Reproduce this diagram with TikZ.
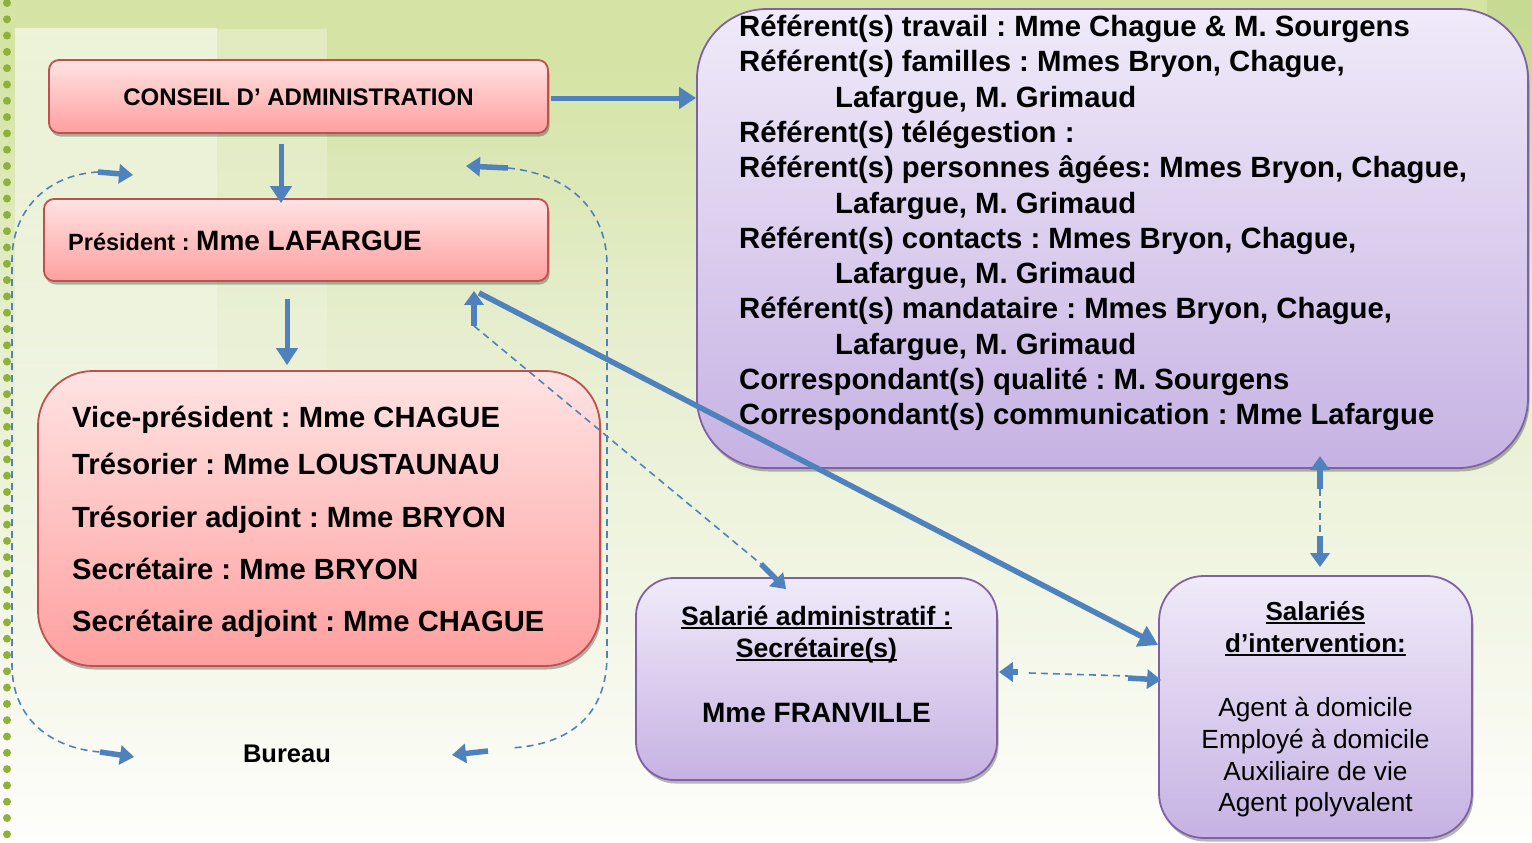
\documentclass[tikz,border=0pt]{standalone}
\usepackage{fontspec}
\setmainfont{Liberation Sans}
\usetikzlibrary{arrows.meta,shadows,fadings}
\definecolor{bgA}{HTML}{D5E3A5}
\definecolor{bgB}{HTML}{E6EECE}
\definecolor{bgC}{HTML}{F4F7E9}
\definecolor{bgD}{HTML}{FEFEFC}
\definecolor{strip}{HTML}{C6DA92}
\definecolor{dotgreen}{HTML}{8FB03A}
\definecolor{pinktop}{HTML}{FFE3E3}
\definecolor{pinkbot}{HTML}{FF9F9F}
\definecolor{pinkborder}{HTML}{C0504D}
\definecolor{lilactop}{HTML}{F0EAF9}
\definecolor{lilacbot}{HTML}{C6B2E3}
\definecolor{lilacborder}{HTML}{7F62A6}
\definecolor{arrowblue}{HTML}{4F81BD}
\newcommand\myul[1]{\setbox0\hbox{#1}\rlap{\rule[-4pt]{\wd0}{1.8pt}}\box0}
\frenchspacing
\begin{document}
\begin{tikzpicture}[x=1pt,y=-1pt,
  pinkbox/.style={draw=pinkborder, line width=1.8pt, top color=pinktop, bottom color=pinkbot,
    rounded corners=#1, inner sep=0pt,
    drop shadow={shadow xshift=1.5pt, shadow yshift=-3.5pt, opacity=.28, fill=black}},
  lilacbox/.style={draw=lilacborder, line width=1.8pt, top color=lilactop, bottom color=lilacbot,
    rounded corners=#1, inner sep=0pt,
    drop shadow={shadow xshift=1.5pt, shadow yshift=-3.5pt, opacity=.28, fill=black}},
  txt/.style={inner sep=0pt, text=black},
  conn/.style={draw=arrowblue, line width=5pt, -{Triangle[length=17pt,width=21pt]}},
  shortarr/.style={draw=arrowblue, line width=5.5pt, -{Triangle[length=14pt,width=19pt]}},
  dconn/.style={draw=arrowblue, line width=1.6pt, dash pattern=on 7pt off 5pt},
]
\useasboundingbox (0,0) rectangle (1532,843);
% background
\fill[bgA] (0,0) rectangle (1532,60);
\shade[top color=bgA, bottom color=bgB] (0,59.5) rectangle (1532,330);
\shade[top color=bgB, bottom color=bgC] (0,329.5) rectangle (1532,650);
\shade[top color=bgC, bottom color=bgD] (0,649.5) rectangle (1532,843);
\fill[white, opacity=.6, path fading=south] (15,28) rectangle (217,720);
\fill[white, opacity=.3, path fading=south] (217,28) rectangle (327,680);
\fill[strip, path fading=south] (1487,0) rectangle (1532,260);
\draw[dotgreen, line width=8pt, line cap=round, dash pattern=on 0pt off 16.3pt] (7,3) -- (7,843);

% boxes
\node[pinkbox=10pt, minimum width=499pt, minimum height=73pt] (cons) at (298.5,96.5) {};
\node[pinkbox=10pt, minimum width=504pt, minimum height=82pt] (pres) at (296,240) {};
\node[pinkbox=55pt, minimum width=562pt, minimum height=295pt] (bur) at (319,518.5) {};
\node[lilacbox=70pt, minimum width=831pt, minimum height=459pt] (ref) at (1112.5,238.5) {};
\node[lilacbox=38pt, minimum width=361pt, minimum height=202pt] (adm) at (816.5,679) {};
\node[lilacbox=45pt, minimum width=313pt, minimum height=262pt] (sal) at (1315.5,707) {};

% texts
\node[txt, anchor=base, font=\fontsize{24}{28}\selectfont\bfseries] (tcons) at (298.5,106) {CONSEIL D’ ADMINISTRATION};
\node[txt, anchor=base west] (tpres) at (68,250) {\fontsize{23.5}{26}\selectfont\bfseries Président : \fontsize{28}{32}\selectfont Mme LAFARGUE};

\foreach \i/\yy/\t in {0/427/{Vice-président : Mme CHAGUE},1/474/{Trésorier : Mme LOUSTAUNAU},2/527/{Trésorier adjoint : Mme BRYON},3/579/{Secrétaire : Mme BRYON},4/631.5/{Secrétaire adjoint : Mme CHAGUE}}
  \node[txt, anchor=base west, font=\fontsize{29.2}{33}\selectfont\bfseries] (tbur\i) at (72,\yy) {\t};

\foreach \i/\xx/\t in {0/739/{Référent(s) travail : Mme Chague \& M. Sourgens},
  1/739/{Référent(s) familles : Mmes Bryon, Chague,},
  2/835/{Lafargue, M. Grimaud},
  3/739/{Référent(s) télégestion :},
  4/739/{Référent(s) personnes âgées: Mmes Bryon, Chague,},
  5/835/{Lafargue, M. Grimaud},
  6/739/{Référent(s) contacts : Mmes Bryon, Chague,},
  7/835/{Lafargue, M. Grimaud},
  8/739/{Référent(s) mandataire : Mmes Bryon, Chague,},
  9/835/{Lafargue, M. Grimaud},
  10/739/{Correspondant(s) qualité : M. Sourgens},
  11/739/{Correspondant(s) communication : Mme Lafargue}}
  \node[txt, anchor=base west, font=\fontsize{29.3}{35}\selectfont\bfseries] (tref\i) at (\xx,36.5+\i*35.3) {\t};

\node[txt, anchor=base, font=\fontsize{26.6}{30}\selectfont\bfseries] (tadm1) at (816.5,625) {\myul{Salarié administratif :}};
\node[txt, anchor=base, font=\fontsize{26.6}{30}\selectfont\bfseries] (tadm2) at (816.5,657) {\myul{Secrétaire(s)}};
\node[txt, anchor=base, font=\fontsize{28}{32}\selectfont\bfseries] (tadm3) at (816.5,722) {Mme FRANVILLE};

\node[txt, anchor=base, font=\fontsize{26}{30}\selectfont\bfseries] (tsal1) at (1315.5,620) {\myul{Salariés}};
\node[txt, anchor=base, font=\fontsize{26}{30}\selectfont\bfseries] (tsal2) at (1315.5,652) {\myul{d’intervention:}};
\foreach \i/\yy/\t in {3/716.7/{Agent à domicile},4/748.3/{Employé à domicile},5/780/{Auxiliaire de vie},6/811.7/{Agent polyvalent}}
  \node[txt, anchor=base, font=\fontsize{26.3}{30}\selectfont] (tsal\i) at (1315.5,\yy) {\t};

\node[txt, anchor=base, font=\fontsize{25.5}{30}\selectfont\bfseries] (blabel) at (287,762) {Bureau};

% connectors
\coordinate (c1) at ([yshift=-1.5pt]cons.east);
\draw[conn, shorten <=2pt] (c1) -- (c1 -| ref.west);
\coordinate (c2) at ([xshift=-17.5pt]cons.south);
\draw[conn, shorten <=10pt, shorten >=-5pt] (c2) -- (c2 |- pres.north);
\coordinate (c3) at ([xshift=-9pt]pres.south);
\draw[conn, shorten <=17pt, shorten >=5pt] (c3) -- (c3 |- bur.north);
\draw[draw=arrowblue, line width=5.5pt, -{Triangle[length=19pt,width=22pt]}]
  ([xshift=183pt,yshift=-11pt]pres.south) -- ([yshift=62pt]sal.west);

\coordinate (d1) at ([xshift=178pt,yshift=-44pt]pres.south);
\coordinate (d2) at ([xshift=-55.5pt,yshift=13pt]adm.north);
\draw[shortarr] (d1) -- ([xshift=178pt,yshift=-9pt]pres.south);
\draw[dconn] (d1) -- (d2);
\draw[shortarr] (d2) -- ([xshift=-30.5pt,yshift=-12pt]adm.north);

\coordinate (e1) at ([yshift=7pt]adm.east);
\coordinate (e2) at ([yshift=27pt]sal.west);
\draw[shortarr] ([xshift=20pt]e1) -- ([xshift=1pt]e1);
\draw[dconn] ([xshift=31pt,yshift=-1pt]e1) -- ([xshift=-30pt,yshift=4pt]e2);
\draw[shortarr] ([xshift=-30pt,yshift=2pt]e2) -- ([xshift=3pt]e2);

\coordinate (f1) at ([xshift=4.5pt]sal.north);
\draw[shortarr] ([yshift=86pt]f1) -- ([yshift=119pt]f1);
\draw[dconn] ([yshift=86pt]f1) -- ([yshift=39pt]f1);
\draw[shortarr] ([yshift=39pt]f1) -- ([yshift=8pt]f1);

% bureau loops
\coordinate (lt) at (98,172);
\coordinate (lb) at (100,752);
\coordinate (rt) at (508,168);
\coordinate (rb) at (488,751);
\draw[dconn] (lt) .. controls (45,175) and (12,212) .. (12,260) -- (12,665)
  .. controls (12,718) and (50,748) .. (lb);
\draw[shortarr] (lt) -- (133,175);
\draw[shortarr] (lb) -- (134,757);
\draw[dconn] (rt) .. controls (575,175) and (607,215) .. (607,265) -- (607,655)
  .. controls (607,715) and (570,745) .. (510,748);
\draw[shortarr] (rt) -- (466,166);
\draw[shortarr] (rb) -- (452,755);
\end{tikzpicture}
\end{document}
